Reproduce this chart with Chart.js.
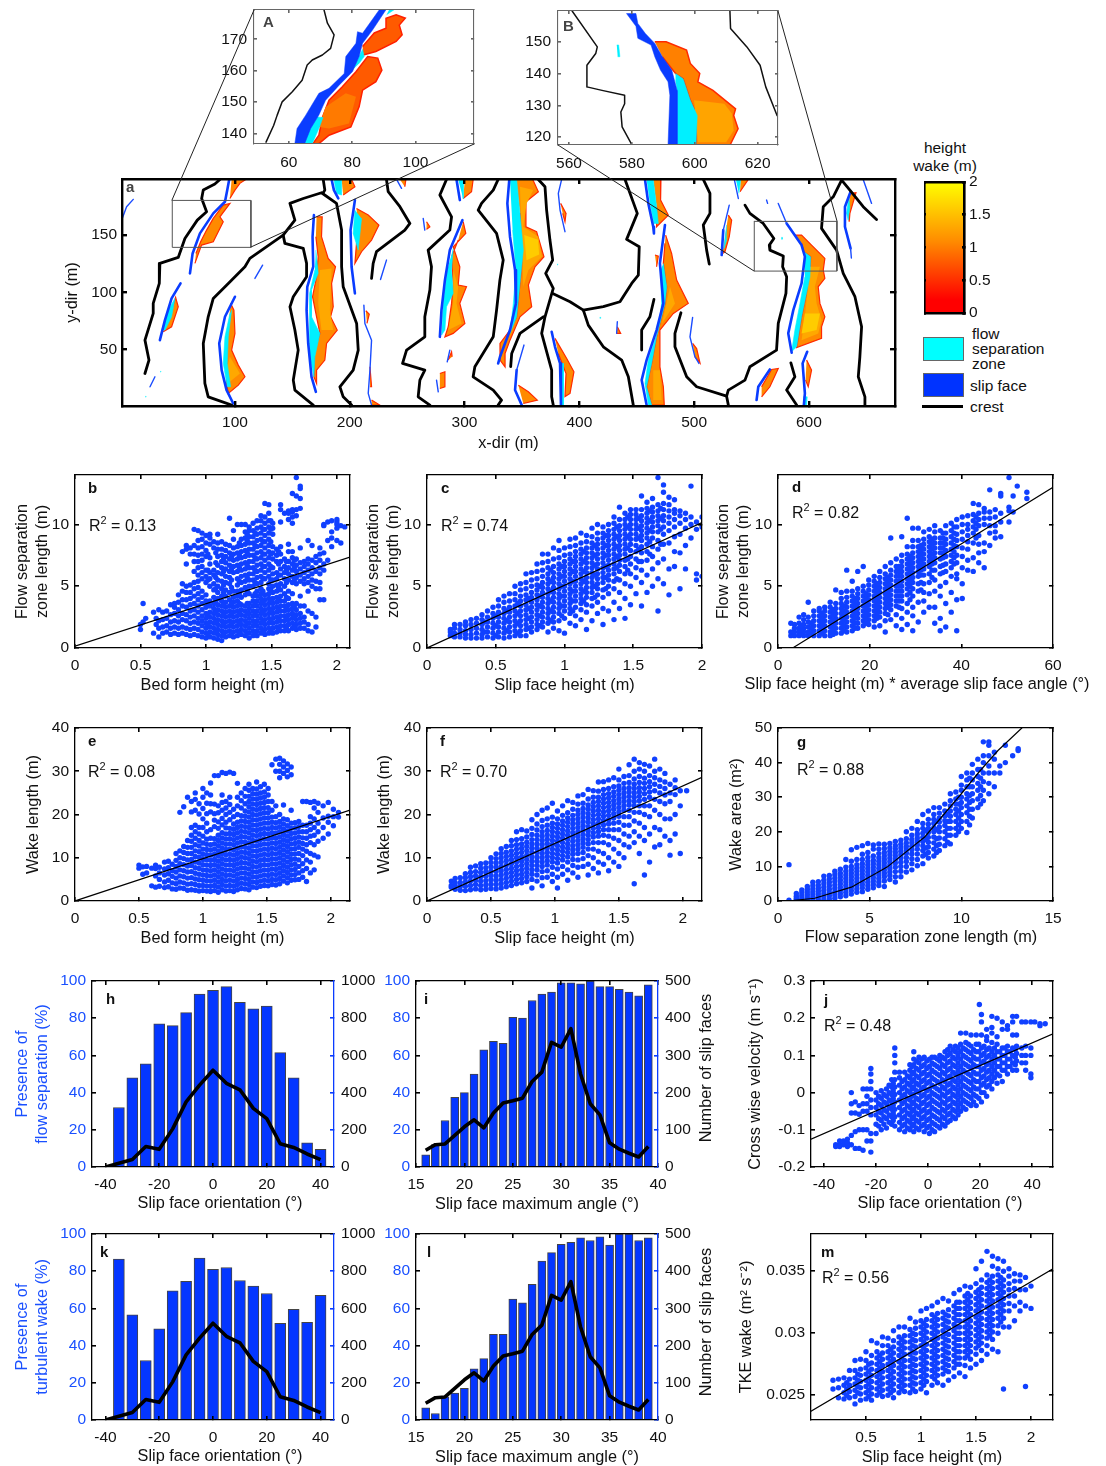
<!DOCTYPE html>
<html>
<head>
<meta charset="utf-8">
<script src="https://cdn.jsdelivr.net/npm/chart.js@4"></script>
<style>
  body { margin: 0; background: #fff; width: 1106px; height: 1466px; position: relative; overflow: hidden; font-family: "Liberation Sans", Arial, sans-serif; color: #111; }
  canvas { position: absolute; }
  .txt { position: absolute; font-size: 15.5px; line-height: 15px; white-space: nowrap; }
  .box { position: absolute; border: 1px solid #666; box-sizing: border-box; }
</style>
</head>
<body>
<div class="txt" style="left:900px;width:90px;text-align:center;top:140px">height</div>
<div class="txt" style="left:900px;width:90px;text-align:center;top:158px">wake (m)</div>
<div class="box" style="left:923px;top:337px;width:41px;height:24px;background:#00ffff"></div>
<div class="box" style="left:923px;top:373px;width:41px;height:24px;background:#0033ff"></div>
<div class="box" style="left:922px;top:405px;width:41px;height:3px;background:#000;border:0"></div>
<div class="txt" style="left:972px;top:326px">flow</div>
<div class="txt" style="left:972px;top:341px">separation</div>
<div class="txt" style="left:972px;top:356px">zone</div>
<div class="txt" style="left:970px;top:378px">slip face</div>
<div class="txt" style="left:970px;top:399px">crest</div>
<script>
// ---- bar and line data ----
const orientBins = [-35,-30,-25,-20,-15,-10,-5,0,5,10,15,20,25,30,35,40];
const presenceSepOrient = [32,48,55.5,77,76,83,93,95,97,88.5,85,86.5,61.5,48,13,9.5];
const presenceWakeOrient = [86.5,56.5,32,49,69.5,74.5,87,81,82,75,72,68,52,59.5,52.5,67];
const countOrientX = [-40,-35,-30,-25,-20,-15,-10,-5,0,5,10,15,20,25,30,35,40];
const countOrient = [0,20,40,110,95,205,350,440,520,450,415,315,260,125,105,70,40];
const angleBins = [16,17,18,19,20,21,22,23,24,25,26,27,28,29,30,31,32,33,34,35,36,37,38,39];
const presenceSepAngle = [6.5,12,25,37.5,40,50,63,67.5,66.5,80.5,80,89.5,93,94,99,99,98.5,100,97,97,95.5,94,92,98];
const presenceWakeAngle = [6.5,3.5,12.5,14.5,17,27.5,33,46,46,65,63,73,85.5,90,94.5,95.5,98,96.5,98.5,94,100,100,96.5,98];
const countAngle = [45,60,62,85,108,127,105,145,172,178,185,230,255,335,322,372,250,170,140,65,48,37,27,55];

// ---- tick labels ----
const ticksMapX = [100,200,300,400,500,600];
const ticksMapY = [50,100,150];
const ticksLen = [0,5,10];
const ticks40 = [0,10,20,30,40];
const ticks50 = [0,10,20,30,40,50];
const ticksHeight = [0,0.5,1,1.5,2];
const ticksAngleD = [0,20,40,60];
const ticksG = [0,5,10,15];
const ticksOrient = [-40,-20,0,20,40];
const ticksAngle = [15,20,25,30,35,40];
const ticksPct = [0,20,40,60,80,100];
const ticksCount1000 = [0,200,400,600,800,1000];
const ticksCount500 = [0,100,200,300,400,500];
const ticksJ = [-0.2,-0.1,0,0.1,0.2,0.3];
const ticksMy = [0.025,0.03,0.035];
const ticksInsetAx = [60,80,100];
const ticksInsetAy = [140,150,160,170];
const ticksInsetBx = [560,580,600,620];
const ticksInsetBy = [120,130,140,150];
const ticksBar = [0,0.5,1,1.5,2];

// ---- fit lines, as x,y pairs ----
const fitB = [0,0.15,2.1,7.35];
const fitC = [0,0,2,10.15];
const fitD = [3.2,0,60,13];
const fitE = [0,0,2.15,21];
const fitF = [0,0,2.15,28.6];
const fitG = [0.5,0,2,0.8,4,4,6,10,8,18.5,10,31,11,37.5,12,43.5,13.3,50];
const fitJ = [-45,-0.125,48,0.158];
const fitM = [0,0.0237,2.2,0.0352];

// ---- scatter clouds, each row is x followed by the y values seen at that x ----
const scatterB = [[.5,1.5,1.9],[.52,3.6,2.1],[.54,2.4],[.6,1.2,2.9],[.62,1.9,2.4],[.64,.9,1.6,2.2,3.1],[.67,1.2,1.7,2.3,2.9],[.7,1.3,1.8,2.4,3],[.73,1.1,1.6,2.1,2.7,3.5],[.76,1.2,1.7,2.2,2.8,3.3,3.6],[.79,1.1,1.6,2.1,2.6,3.1,3.7,4.3],[.82,1.2,1.7,2.3,2.8,3.4,3.9,4.6,5.2,7.8],[.85,1.1,1.6,2.2,2.7,3.3,3.9,4.5,5,6.8,8,8.3],[.88,1,1.5,2,2.5,3,3.5,4,4.5,5.1,7.6,8.1],[.91,1.1,1.6,2.1,2.6,3.1,3.6,4.2,4.8,5.3,6.2,7,7.6,8.3,9.6],[.94,1,1.5,2,2.4,2.9,3.4,3.9,4.4,4.9,5.4,5.9,6.5,7,7.5,8.1,8.7,9.5],[.97,.9,1.3,1.8,2.2,2.6,3.1,3.6,4.1,4.6,5.6,6.1,6.6,7.1,7.6,8.2,8.8,9.3],[1,.8,1.2,1.6,2,2.4,2.8,3.3,3.8,4.3,5.3,5.8,6.3,7.4,7.9,8.5,9.1],[1.03,.9,1.3,1.7,2.1,2.5,2.9,3.4,3.8,5,5.6,6.1,6.8,7.3,8.4,8.9,9.2],[1.06,.8,1.2,1.6,2,2.4,2.8,3.2,3.6,4.1,4.7,5.2,5.9,6.3,8.1,8.6],[1.09,.7,1.1,1.5,1.9,2.3,2.7,3.1,3.5,4,4.5,5,5.5,6.1,6.7,7.4,8,8.5,9.2],[1.12,.6,1,1.4,1.8,2.2,2.6,3,3.4,3.8,4.2,4.8,5.4,6,6.5,7,7.5,8,8.6],[1.15,.9,1.3,1.7,2.1,2.5,2.9,3.3,3.7,4.2,4.7,5.3,5.8,6.4,6.9,7.4,7.9,8.4],[1.18,1,1.4,1.8,2.2,2.6,3,3.4,3.9,4.5,5.2,5.7,6.2,6.7,7.2,7.7,8.3,10.5],[1.21,.9,1.3,1.7,2.1,2.5,2.9,3.3,3.7,4.1,4.6,6.1,6.6,7.1,7.6,8.1,8.8,9.5],[1.24,1,1.4,1.8,2.2,2.6,3,3.4,3.8,4.2,4.6,5.1,5.6,6.2,6.7,7.2,7.7,8.2,10],[1.27,1.1,1.5,1.9,2.3,2.7,3.1,3.5,4.1,4.7,5.3,5.8,6.3,6.8,7.3,7.8,8.3,8.8,10],[1.3,1,1.4,1.8,2.2,2.6,3,3.4,4.3,4.9,5.4,5.9,6.4,6.9,7.4,7.9,8.4,8.9,9.4,10],[1.33,.8,1.2,1.6,2,2.4,2.8,3.2,3.6,4.4,5,5.5,6,6.5,7,7.5,8,8.5,9,9.5,9.8],[1.36,1,1.4,1.8,2.2,2.6,3,3.4,3.8,4.2,5,5.5,6,6.5,7,7.5,8,8.5,9,9.5,10.1],[1.39,1,1.4,1.8,2.2,2.6,3,3.4,3.8,4.2,4.6,5.2,5.7,6.2,6.7,7.2,7.7,8.2,8.7,9.2,9.7,10.3],[1.42,1.2,1.6,2,2.4,2.8,3.2,3.6,4,4.4,4.8,5.3,5.8,6.3,6.8,7.3,7.8,8.3,8.8,9.3,9.8,10.3,10.7],[1.45,1.1,1.5,1.9,2.3,2.7,3.1,3.5,3.9,4.3,5.6,6.1,6.6,7.1,7.6,8.1,8.6,9.1,9.6,10.1,10.6,11.7],[1.48,1.2,1.6,2,2.4,2.8,3.2,3.6,4,4.4,4.8,5.2,5.8,6.3,6.8,7.3,7.8,8.3,8.8,9.3,9.8,10.3,10.9,11.6],[1.51,1.2,1.6,2,2.4,2.8,3.2,3.6,4,4.5,5,5.5,6,6.5,7.2,7.7,8.2,9.2,9.7,10.1],[1.54,1.3,1.7,2.1,2.5,2.9,3.3,3.7,4.1,4.6,5.1,5.6,6.1,7,7.5,8],[1.57,1.4,1.8,2.2,2.6,3,3.4,3.8,4.2,4.7,5.2,5.9,6.4,7,7.6,8.2,10.2,11.2,11.6],[1.6,1.4,1.8,2.2,2.6,3,3.4,3.8,4.4,5,5.6,6.1,6.6,7.2,10.9],[1.63,1.4,1.9,2.3,2.7,3.1,3.5,4,4.6,5.5,6,6.5,7,7.8,8.4,10.4,10.9,11.1],[1.66,1.6,2,2.4,2.8,3.2,3.6,4.4,5.3,5.8,6.3,6.8,7.3,7.8,10.1,10.6,11,11.2,12.5],[1.69,1.5,1.9,2.3,2.7,3.1,3.6,5.2,5.7,6.2,6.7,7.2,10.7,11.2,12.3,13.8],[1.72,1.6,2,2.4,2.8,3.4,4.2,5.4,5.9,6.4,6.9,8.1,11.3,12.1,12.9,13.1],[1.75,1.6,2.1,2.5,3.4,5.2,5.6,6.1,6.6,7],[1.78,1.4,1.9,3,4.6,5.3,5.8,6.3,6.8,7.2,8.7],[1.81,1.3,2.8,5,5.5,6,6.5,7.1,8.3],[1.84,1.7,2.5,4.8,5.4,6.2,6.9,7.4],[1.87,3.9,4.8,5.3,6,6.5,7.1,7.6,8.1],[1.9,3.9,6.3,6.8,7.7,9.9,10],[1.93,7.1,8.7,10.2],[1.96,8.2,8.9,9.4,10.3],[2,8.7,9.7,10.2,10.4,10],[2.03,8.5,9.9],[2.06,9.8]];
const scatterBCore = [[1.015,1.1,1.9,2.7,3.6,5.5,6.3,7.6],[1.075,1.3,2.1,2.9,3.8,4.8,5.7,6.9,7.7],[1.135,1.1,1.9,2.7,3.5,4.5,5.1,6.2,7.2],[1.195,1.2,2,2.8,3.6,4.9,5.5,6.4,7.4],[1.255,1.2,2,2.8,3.6,4.4,5.4,6.5,7.5,8.5],[1.315,1.2,2,2.8,3.6,4.6,5.7,6.7,7.7,8.7,9.2],[1.375,1.2,2,2.8,3.6,4.4,5.3,6.3,7.3,8.3,9.3],[1.435,1.3,2.1,2.9,3.7,4.6,5.6,6.6,7.6,8.6,9.6],[1.495,1.4,2.2,3,3.8,4.7,5.5,6.6,7.6,8.6,9.6,10.3],[1.555,1.5,2.3,3.1,3.9,4.9,5.9,6.8,7.8],[1.615,1.6,2.4,3.2,4.1,5.3,6.3,7],[1.675,1.7,2.5,3.4,5.5,6.5,7.1]];
const scatterC = [[.17,1,1.3,1.5],[.2,.9,1.2,1.6,1.9],[.24,.9,1.2,1.5,1.9],[.28,.8,1.1,1.4,1.8,2.1],[.32,.8,1.1,1.5,1.9,2.3],[.36,.8,1.2,1.6,2,2.4],[.4,.8,1.1,1.5,1.9,2.3,2.7],[.44,.9,1.3,1.7,2.1,2.5,3],[.48,.8,1.2,1.6,2,2.4,2.8,3.3],[.52,.9,1.3,1.7,2.1,2.5,2.9,3.4,3.9],[.56,.8,1.2,1.6,2,2.4,2.8,3.2,3.7,4.2],[.6,.9,1.3,1.7,2.1,2.5,2.9,3.3,3.8,4.4],[.64,1,1.4,1.8,2.2,2.6,3,3.4,3.9,4.4,5],[.68,1,1.4,1.8,2.2,2.6,3,3.4,3.8,4.2,4.7,5.2],[.72,1,1.5,1.9,2.3,2.7,3.1,3.5,3.9,4.3,4.8,5.3,6],[.76,1.3,1.7,2.1,2.5,2.9,3.3,3.7,4.1,4.5,5,5.5,6.1],[.8,1.5,1.9,2.3,2.7,3.1,3.5,3.9,4.3,4.7,5.1,5.6,6.2,6.8],[.84,1.7,2.1,2.5,2.9,3.3,3.7,4.1,4.5,4.9,5.3,5.8,6.3,6.9,7.6],[.88,1.3,2,2.4,2.8,3.2,3.6,4,4.4,4.8,5.2,5.6,6,6.5,7,7.6],[.92,1.6,2.1,2.5,2.9,3.3,3.7,4.1,4.5,4.9,5.3,5.7,6.1,6.6,7.2,8.1],[.96,1.4,2.2,2.8,3.2,3.6,4,4.4,4.8,5.2,5.6,6,6.4,6.8,7.3,7.9,8.7],[1,1.2,2.4,3,3.4,3.8,4.2,4.6,5,5.4,5.8,6.2,6.6,7,7.5,8.1],[1.04,2,2.8,3.2,3.6,4,4.4,4.8,5.2,5.6,6,6.4,6.8,7.2,7.6,8.2,8.8],[1.08,1.8,2.6,3.3,3.8,4.2,4.6,5,5.4,5.8,6.2,6.6,7,7.4,7.8,8.3,8.9],[1.12,2.3,3.1,3.6,4,4.4,4.8,5.2,5.6,6,6.4,6.8,7.2,7.6,8,8.5,9.3],[1.16,1.5,2.9,3.5,4.1,4.5,4.9,5.3,5.7,6.1,6.5,6.9,7.3,7.7,8.1,8.6,9.1],[1.2,2.2,3.4,4,4.5,4.9,5.3,5.7,6.1,6.5,6.9,7.3,7.7,8.1,8.5,9,9.7],[1.24,2.8,3.7,4.3,4.8,5.2,5.6,6,6.4,6.8,7.2,7.6,8,8.4,8.8,9.3,10],[1.28,1.9,3.2,4.1,4.7,5.3,5.7,6.1,6.5,6.9,7.3,7.7,8.1,8.5,8.9,9.3,9.8],[1.32,3,4.4,5,5.5,5.9,6.3,6.7,7.1,7.5,7.9,8.3,8.7,9.1,9.5,10],[1.36,2.3,3.7,4.8,5.4,6,6.4,6.8,7.2,7.6,8,8.4,8.8,9.2,9.6,10.1,10.6],[1.4,3.2,4.5,5.5,6.2,6.7,7.1,7.5,7.9,8.3,8.7,9.1,9.5,9.9,10.4,11.4],[1.44,2.4,4,5.2,6,6.6,7.1,7.6,8,8.4,8.8,9.2,9.6,10,10.4,10.9],[1.48,3.5,5,6,6.8,7.4,7.9,8.4,8.8,9.2,9.6,10,10.4,10.8,11.2],[1.52,4.4,5.7,6.5,7.2,7.8,8.3,8.8,9.2,9.6,10,10.4,10.8,11.2],[1.56,3.4,5.3,6.3,7,7.7,8.2,8.7,9.1,9.5,9.9,10.3,10.7,11.2,12.3],[1.6,4.5,5.9,7.1,7.8,8.4,8.9,9.3,9.7,10.1,10.5,10.9,11.3,11.8],[1.64,5,6.4,7.4,8.2,8.9,9.4,9.8,10.2,10.6,11,11.4,12.1],[1.68,3,5.6,6.9,8,8.7,9.4,9.9,10.3,10.7,11.1,11.6,13.8],[1.72,5.2,7.2,8.4,9.2,9.8,10.3,10.7,11.2,11.7,12.6,13.2],[1.76,4.3,6.4,8.5,9.5,10.1,10.6,11.1,11.6,12.2],[1.8,6.6,7.8,9,9.8,10.4,10.9,11.2,12],[1.84,4.8,7.7,9.2,10.1,10.7,11.1],[1.88,6.4,8.3,9.7,10.4,10.9],[1.92,8.9,10,10.6,13.1],[1.96,6,5.5,9.6,10.2],[2,10.6,5.8,9.8]];
const scatterCCore = [[.42,1.3,2.1],[.5,1,1.8,2.6],[.58,1.4,2.2,3],[.66,1.2,2,2.8,3.6],[.74,1.6,2.4,3.2,4],[.82,1.8,2.6,3.4,4.2,5],[.9,2.2,3,3.8,4.6,5.4,6.3],[.98,2.6,3.4,4.2,5,5.8,6.6],[1.06,3,3.8,4.6,5.4,6.2,7],[1.14,3.8,4.6,5.4,6.2,7,7.8],[1.22,4.1,5,5.9,6.7,7.5,8.3],[1.3,4.8,5.7,6.6,7.5,8.3,9.1],[1.38,5.6,6.5,7.4,8.2,9,9.8],[1.46,6.3,7.2,8.1,9,9.8,10.6],[1.54,7,8,8.9,9.7,10.5],[1.62,7.6,8.6,9.5,10.3,11.1],[1.7,8.4,9.6,10.5,11.3]];
const scatterD = [[2.8,1,1.3,2],[3.6,1,1.3,1.6,1.9],[4.6,1,1.3,1.6,2,2.5],[5.6,1,1.3,1.6,1.9,2.3,2.7],[6.6,1,1.3,1.7,2.1,2.5,3.7],[7.8,1,1.4,1.8,2.2,2.6,3],[9,1,1.4,1.8,2.2,2.6,3,3.2],[10.2,1,1.4,1.8,2.2,2.6,3,3.3],[11.4,1,1.3,1.7,2.1,2.5,2.9,3.3,3.7],[12.6,1.2,1.6,2,2.4,2.8,3.2,3.6,4.7],[13.8,1.2,1.6,2,2.4,2.8,3.2,3.6,4,4.5],[15,1.3,1.7,2.1,2.5,2.9,3.3,3.7,4.1,4.6,6.3],[16.2,1.4,1.8,2.2,2.6,3,3.4,3.8,4.2,4.6,5.4],[17.4,1.6,2,2.4,2.8,3.2,3.6,4,4.4,4.8,6.2],[18.6,1.8,2.2,2.6,3,3.4,3.8,4.2,4.6,5,6.6],[19.8,1.9,2.3,2.7,3.1,3.5,3.9,4.3,4.7,5.1,5.5],[21,1.7,2.2,2.6,3,3.4,3.8,4.2,4.6,5,5.4,5.8],[22.2,1.8,2.5,2.9,3.3,3.7,4.1,4.5,4.9,5.3,5.7,6.2],[23.4,1.3,2.2,2.8,3.2,3.6,4,4.4,4.8,5.2,5.6,6,6.6],[24.6,2.3,3.1,3.5,3.9,4.3,4.7,5.1,5.5,5.9,6.3,6.9,8.9],[25.8,1.8,2.7,3.4,3.8,4.2,4.6,5,5.4,5.8,6.2,6.6,7.2],[27,1.5,2.4,3.2,3.8,4.2,4.6,5,5.4,5.8,6.2,6.6,7,7.5,9],[28.2,1.9,2.9,3.6,4.3,4.8,5.2,5.6,6,6.4,6.8,7.2,7.6,8.2,10.5],[29.4,1.4,2.6,3.3,4.2,4.8,5.3,5.7,6.1,6.5,6.9,7.3,7.7,8.2,8.7,9.7],[30.6,2.1,3.7,4.6,5.2,5.8,6.2,6.6,7,7.4,7.8,8.2,8.7,9.7],[31.8,2.9,3.8,4.5,5.2,5.9,6.4,6.8,7.2,7.6,8,8.4,8.8,9.4],[33,3.3,4.4,5.3,6,6.6,7,7.4,7.8,8.2,8.6,9,9.6],[34.2,2,3.3,4.6,5.5,6.3,6.9,7.3,7.7,8.1,8.5,8.9,9.4,9.9],[35.4,1.4,2.4,4.2,5,6,6.6,7.2,7.7,8.1,8.5,8.9,9.5],[36.6,1.7,3.6,5.3,6.2,6.8,7.4,7.9,8.4,8.8,9.3,9.9],[37.8,2.9,4.5,5.8,6.5,7,7.5,8,8.5,9,9.5,10.1],[39,1.4,3.9,5.6,6,6.9,7.5,8.2,8.7,9.2,9.8,10.4],[40.2,4,5.2,6.5,7.4,8.1,8.8,9.4,10,10.6],[41.4,6.3,7.1,8,8.6,9.1,9.6,10,10.7],[42.6,6.2,7.3,8.5,9.3,9.8,10.3,10.8,11.7],[43.8,6.9,7.7,8.4,9.1,9.9,10.4,10.9,11.6],[45,6.5,7.8,8.5,10,10.5,11,11.3],[46.2,8.3,9.3,9.9,10.5,11,12.8],[47.4,8.9,9.4,9.9,10.6,11.2],[48.6,9,10.2,10.9,12.3,12.5],[50.4,10.2,11.1,11.4,13.8],[51.3,11,12.3],[52.2,13.1],[54.3,12.1,12.6]];
const scatterDCore = [[5,1.15,1.45,1.8],[7.2,1.2,1.6,2],[9.6,1.2,1.6,2,2.4,2.8],[12,1.1,1.5,1.9,2.3,2.7,3.1],[14.4,1.4,1.8,2.2,2.6,3,3.4],[16.8,1.6,2,2.4,2.8,3.2,3.6,4],[19.2,2,2.4,2.8,3.2,3.6,4,4.4],[21.6,2.4,2.8,3.2,3.6,4,4.4,4.8,5.2],[24,2.7,3.3,3.7,4.1,4.5,4.9,5.3,5.7],[26.4,3.3,3.8,4.2,4.6,5,5.4,5.8,6.2,6.6],[28.8,3.9,4.5,5,5.4,5.8,6.2,6.6,7,7.4],[31.2,4.7,5.3,5.9,6.3,6.7,7.1,7.5,7.9,8.3],[33.6,5.7,6.3,6.8,7.2,7.6,8,8.4,8.8],[36,6.1,6.7,7.3,7.7,8.1,8.5,8.9,9.3],[38.4,6.8,7.3,7.8,8.3,8.8,9.3,9.8],[43.2,8.9,9.6,10.1,10.6]];
const scatterE = [[.5,8.3,7.6],[.53,6.2,7.9],[.56,6.5,8],[.6,3.5,7.6],[.63,3.2,5.8,7.5,8.3],[.66,3.4,5,6.5,7.8],[.7,3.1,4.4,6,7.4,9],[.73,3.3,4.8,6.3,7.7,9.2],[.76,2.8,4.2,5.7,7,8.5],[.79,2.7,4,5.3,6.7,8,9.4,11],[.82,3,4.4,5.8,7.2,8.6,10,11.6,20.5],[.85,2.9,4.2,5.6,7,8.4,9.8,11.2,12.6,21.8],[.88,2.5,3.9,5.3,6.7,8.1,9.5,11,12.4,14,24],[.91,2.6,4,5.4,6.8,8.2,9.6,11,12.4,13.8,15.2,17,20.6,23],[.94,2.5,3.8,5.1,6.4,7.7,9,10.3,11.6,13,14.5,16,17.5,21,23.5,25],[.97,2.3,3.6,4.9,6.2,7.5,8.8,10.1,11.4,12.7,14,15.5,17,20.1,22.5],[1,2.4,3.6,4.8,6,7.2,8.4,9.6,10.8,12,13.4,15,17,19,21.4,24,26],[1.03,2.3,3.5,4.7,5.9,7.1,8.3,9.5,10.7,11.9,13.1,14.3,16,18,20.2,22.6,25],[1.06,2.2,3.4,4.6,5.8,7,8.2,9.4,10.6,11.8,13,14.5,16.5,20.6,22.5,24.5,27.3],[1.09,2.4,3.6,4.8,6,7.2,8.4,9.6,10.8,12,13.2,14.4,17.2,18.7,20.2,22.4,29],[1.12,2,3.2,4.4,5.6,6.8,8,9.2,10.4,11.6,12.8,14,15.2,16.8,18.3,20.4,22,29],[1.15,2.6,3.8,5,6.2,7.4,8.6,9.8,11,12.2,13.4,14.6,15.8,17.6,19.1,21,22.8,24.5,29.7],[1.18,2.3,3.5,4.7,5.9,7.1,8.3,9.5,10.7,11.9,13.1,14.3,15.5,16.9,18.2,20,21.5,23,29.5],[1.21,2.4,3.6,4.8,6,7.2,8.4,9.6,10.8,12,13.2,14.4,15.6,16.8,18.8,20.5,22.3,24,29.8],[1.24,2.2,3.4,4.6,5.8,7,8.2,9.4,10.6,11.8,13,14.2,15.4,16.6,17.8,19.5,21.2,29.5],[1.27,2.6,3.8,5,6.2,7.4,8.6,9.8,11,12.2,13.4,14.6,15.8,17,18.2,20,22,24,27.2],[1.3,2.9,4.1,5.3,6.5,7.7,8.9,10.1,11.3,12.5,13.7,14.9,16.1,17.3,18.5,19.7,21.5,23.2,25],[1.33,2.8,4,5.2,6.4,7.6,8.8,10,11.2,12.4,13.6,14.8,16,17.2,18.4,19.6,20.8,22.5,24.2,26],[1.36,2.6,3.8,5,6.2,7.4,8.6,9.8,11,12.2,13.4,14.6,15.8,17,18.2,19.4,20.6,21.8,23,24.2,25.6,27],[1.39,3.2,4.4,5.6,6.8,8,9.2,10.4,11.6,12.8,14,15.2,16.4,17.6,18.8,20,21.2,22.4,23.6,24.8,26],[1.42,3.1,4.3,5.5,6.7,7.9,9.1,10.3,11.5,12.7,13.9,15.1,16.3,17.5,18.7,19.9,21.1,22.3,23.5,24.7,25.9,27.5],[1.45,3.4,4.6,5.8,7,8.2,9.4,10.6,11.8,13,14.2,15.4,16.6,17.8,19,20.2,21.4,22.6,23.8,25,26.4],[1.48,3.6,4.8,6,7.2,8.4,9.6,10.8,12,13.2,14.4,15.6,16.8,18,19.2,20.4,21.6,22.8,24,25.2,27],[1.51,3.5,4.7,5.9,7.1,8.3,9.5,10.7,11.9,13.1,14.3,15.5,16.7,18,19.2,20.4,21.6,23,24.5,26],[1.54,3.8,5,6.2,7.4,8.6,9.8,11,12.2,13.4,14.6,15.8,17,18.2,19.4,21,23,31.5],[1.57,3.7,4.9,6.1,7.3,8.5,9.7,10.9,12.1,13.3,14.5,15.7,16.9,18.1,19.5,22,30,32.8],[1.6,4,5.2,6.4,7.6,8.8,10,11.2,12.4,13.6,14.8,16,17.2,18.4,20,28.5,30,31.6,33],[1.63,4.6,5.8,7,8.2,9.4,10.6,11.8,13,14.2,15.4,16.6,17.8,19,22.2,29.5,31,32.4],[1.66,4.2,5.4,6.6,7.8,9,10.2,11.4,12.6,13.8,15,16.2,17.4,18.8,28.7,30.2,31.7],[1.69,4.8,6,7.2,8.4,9.6,10.8,12,13.2,14.4,15.6,16.8,18,21,29.2,31],[1.72,4.9,6.1,7.3,8.5,9.7,10.9,12.1,13.3,14.5,15.7,16.9,18.1],[1.75,5,6.5,8,9.5,11,12.4,13.6,14.8,16,17.2,18.4],[1.78,5.5,7,8.6,10.5,12,13.3,14.6,16,17.5,23],[1.81,4.5,7.5,9.5,11.5,13,14.5,16,17.5,23],[1.84,6.5,9,11,13.5,15,16.5,18,19.5,22.8],[1.87,7.2,10.6,13,15.2,17,19,21.5,23],[1.9,10.2,13.8,16,18,20.5,22.6],[1.94,14.5,17,19.2,22],[1.98,15.5,18.2,19.6,22.8],[2.02,17.4,19.5,21.2],[2.06,19.4,20.5]];
const scatterF = [[.19,3.2,3.6,4.6],[.22,2.7,3.5,4.2,5.2],[.26,2.5,3.4,4.3,5.4],[.3,2.4,3.4,4.4,5.4,6.3],[.34,2.6,3.6,4.6,5.6,6.6,7.8],[.38,2.8,3.8,4.8,5.8,6.8,8.1],[.42,2.6,3.6,4.6,5.6,6.6,7.6,8.6],[.46,2.7,3.7,4.7,5.7,6.7,7.7,8.8],[.5,2.9,3.9,4.9,5.9,6.9,7.9,8.9,10],[.54,2.8,3.8,4.8,5.8,6.8,7.8,8.8,9.8,10.9],[.58,3,4,5,6,7,8,9,10,11,12.1],[.62,3.3,4.3,5.3,6.3,7.3,8.3,9.3,10.3,11.3,12.6],[.66,3.6,4.6,5.6,6.6,7.6,8.6,9.6,10.6,11.6,12.8,14],[.7,4,5,6,7,8,9,10,11,12,13,14.2,16],[.74,4.2,5.2,6.2,7.2,8.2,9.2,10.2,11.2,12.2,13.2,14.4,16.5],[.78,4.5,5.6,6.6,7.6,8.6,9.6,10.6,11.6,12.6,13.6,14.8,16.2],[.82,3,5,6.2,7.2,8.2,9.2,10.2,11.2,12.2,13.2,14.2,15.4,16.8,18.8],[.86,4.6,6,7.2,8.2,9.2,10.2,11.2,12.2,13.2,14.2,15.2,16.4,17.8,20],[.9,3.5,5.4,6.8,8,9,10,11,12,13,14,15,16,17.2,18.6,21],[.94,5.5,7,8.3,9.3,10.3,11.3,12.3,13.3,14.3,15.3,16.3,17.5,19,21.5],[.98,4.5,6.2,7.8,9,10,11,12,13,14,15,16,17,18,19.4,22.6],[1.02,3,5.5,7.4,8.8,9.8,10.8,11.8,12.8,13.8,14.8,15.8,16.8,17.8,19,20.8],[1.06,6.2,8,9.5,10.5,11.5,12.5,13.5,14.5,15.5,16.5,17.5,18.5,19.8,22],[1.1,4.8,7.2,9,10.2,11.2,12.2,13.2,14.2,15.2,16.2,17.2,18.2,19.2,20.4,23.2],[1.14,6.5,8.2,9.6,10.8,11.8,12.8,13.8,14.8,15.8,16.8,17.8,18.8,19.8,21.2,22.8],[1.18,5.5,7.8,9.5,11,12,13,14,15,16,17,18,19,20,21,22.4,24.3],[1.22,8,9.8,11.2,12.4,13.4,14.4,15.4,16.4,17.4,18.4,19.4,20.4,21.4,22.6,24.6],[1.26,6,8.5,10.5,12,13.2,14.2,15.2,16.2,17.2,18.2,19.2,20.2,21.2,22.2,23.6,25.8],[1.3,7.5,10,12,13.5,14.8,15.8,16.8,17.8,18.8,19.8,20.8,21.8,22.8,24,25.5],[1.34,6.5,9,11.5,13.5,15,16,17,18,19,20,21,22,23,24,25.4,27.5],[1.38,8.5,11,13.5,15.2,16.5,17.6,18.6,19.6,20.6,21.6,22.6,23.6,24.6,25.8,27.6],[1.42,7,10,13,15,16.5,17.8,18.8,19.8,20.8,21.8,22.8,23.8,24.8,26,28],[1.46,9,12,14.5,16.5,18,19.2,20.2,21.2,22.2,23.2,24.2,25.2,26.4,28.5],[1.5,8,11,14,16.5,18.2,19.6,20.6,21.6,22.6,23.6,24.6,25.6,26.6,28,30.5],[1.54,10,13,15.5,17.5,19.5,21,22,23,24,25,26,27.2,28.8],[1.58,12.5,15,17.5,19.5,21,22.2,23.2,24.2,25.2,26.2,27.4,29,31.5],[1.62,4,13.5,16,18.5,20.5,22,23,24,25,26,27,28.2,30,32.8],[1.66,11,15,18,20.5,22,23.2,24.2,25.2,26.2,27.4,28.8,30.5,32],[1.7,6,14,17,20,22,23.5,24.8,26,27.2,28.4,30,31.6],[1.74,9,15.5,19.5,22,24,25.2,26.4,27.6,29,31.2],[1.78,12.5,17,21,23.5,25.5,27,28.5,30,32.8],[1.82,13,16.5,20,23,25,26.5,28,30.5],[1.86,15,19,22.5,24.5,26,27.5,29.5],[1.9,10.6,14,19,23,25,27],[1.94,15.5,20,24.6,26.2,28],[1.98,11,22,25.5],[2.03,25.5]];
const scatterG = [[.6,.2,10.5],[1,.3,.8,1.4,2.2],[1.3,.3,.9,1.6,2.4,3.2],[1.6,.3,1,1.8,2.6,3.4,4.2],[1.9,.3,1,1.8,2.6,3.5,4.4,5.4],[2.2,.4,1.2,2,2.8,3.7,4.6,5.6],[2.5,.4,1.2,2.1,3,4,5,6,7.2],[2.8,.6,1.5,2.4,3.4,4.4,5.4,6.4,7.4],[3.1,.8,1.7,2.6,3.6,4.6,5.6,6.6,7.6,8.6],[3.4,1.2,2.1,3,4,5,6,7,8,9.2],[3.7,1.5,2.5,3.5,4.5,5.5,6.5,7.5,8.6,9.8,12],[4,2,3,4,5,6,7,8,9,10,11.5,14.8],[4.3,2.5,3.5,4.5,5.5,6.5,7.5,8.5,9.5,10.5,12,15.5],[4.6,2.7,3.8,4.8,5.8,6.8,7.8,8.8,9.8,10.8,12,13.5,16],[4.9,3.4,4.4,5.4,6.4,7.4,8.4,9.4,10.4,11.4,12.6,14,16.6],[5.2,3.8,4.8,5.8,6.8,7.8,8.8,9.8,10.8,11.8,13,15,16.2],[5.5,4.5,5.5,6.5,7.5,8.5,9.5,10.5,11.5,12.5,13.7,15,16.5],[5.8,4.2,5.8,7,8,9,10,11,12,13,14,15.2,16.4],[6.1,6.2,7.4,8.4,9.4,10.4,11.4,12.4,13.4,14.4,15.4,16.6],[6.4,5.5,7,8.5,9.8,11,12,13,14,15,16,17.2],[6.7,7,8.6,10,11.2,12.4,13.4,14.4,15.4,16.4,17.6],[7,8.4,10,11.4,12.6,13.8,14.8,15.8,16.8,18,20],[7.3,9,10.8,12.2,13.6,14.8,15.8,16.8,17.8,19,21],[7.6,10.2,12,13.6,15,16.2,17.2,18.2,19.4,20.6,23],[7.9,10.8,13,14.6,16,17.2,18.4,19.6,21,22.4,25],[8.2,12.4,14,15.6,17,18.4,19.8,21,22.2,23.6,26],[8.5,13,15,16.8,18.5,20,21.2,22.4,23.6,25,27],[8.8,14.6,16.4,18.2,20,21.4,22.8,24,25.4,27],[9.1,16,18,20,21.8,23.2,24.6,26,28],[9.4,16.5,19,21,23,24.5,26,27.5,29,31],[9.7,19,21,23,25,26.5,28,29.5,31.5],[10,21,23,25,27,28.5,30,32,33.5,36],[10.3,19.8,23,25.5,27.5,29.5,31,33,35,37],[10.6,24,26.5,29,31,33,35,37,39.5],[10.9,27,29.5,32,34,36,38,41],[11.2,29,32,34.5,37,40,42,46],[11.5,31,34,37,39,42,45,46],[11.8,33,37,41,43],[12.1,37,39],[12.4,40,45],[12.8,42],[13.1,44,43.5]];
const scatterGCore = [[8.05,13.5,15.3,17.8,20.4],[8.65,14,16,18,20.6,23],[9.25,17,19,21,23,25],[9.85,20,22,24,26,28,30],[10.45,22,24.5,26.5,28.5,30.5,33,35.5],[11.05,28,30.5,33,35.5,38]];
const scatterJ = [[-35.5,-.145,-.14],[-34,-.14,-.13,-.145],[-32.5,-.13,-.14],[-31,-.125,-.145,-.135],[-29.5,-.115,-.14,0,-.03,-.055],[-28,-.105,-.15,-.055,-.025],[-26.5,-.1,-.15,-.058,-.035],[-25,-.1,-.155,-.05,-.03,.01],[-23.5,-.13,-.1,-.05,-.03,-.01,.01],[-22,-.16,-.13,-.11,-.06,-.04,-.02,.01,.03,.05,.065],[-20,-.11,-.085,-.06,-.04,-.02,0],[-18,-.1,-.075,-.055,-.035,-.015,.005],[-16,-.095,-.07,-.05,-.03,-.01,.01],[-14,-.085,-.065,-.045,-.025,-.005,.015,.035],[-12.8,-.09,-.065,-.045,-.025,-.005,.015,.035,.055,.08,.1,.12],[-11,-.1,-.08,-.06,-.04,-.02,0,.02,.04,.055],[-9,-.105,-.085,-.065,-.045,-.025,-.005,.015,.035,.055],[-7,-.1,-.08,-.06,-.04,-.02,0,.02,.04,.06,.075],[-5.5,-.105,-.085,-.065,-.045,-.025,-.005,.015,.035,.055,.075,.09,.11],[-3.5,-.1,-.08,-.06,-.04,-.02,0,.02,.04,.06,.08,.095],[-1.5,-.105,-.085,-.065,-.045,-.025,-.005,.015,.035,.055,.075,.095],[.5,-.11,-.09,-.07,-.05,-.03,-.01,.01,.03,.05,.07,.09],[2.5,-.105,-.085,-.065,-.045,-.025,-.005,.015,.035,.055,.075,.095],[4.5,-.095,-.075,-.055,-.035,-.015,.005,.025,.045,.065,.085,.1],[6.5,-.09,-.07,-.05,-.03,-.01,.01,.03,.05,.07,.09,.11],[8.5,-.075,-.055,-.035,-.015,.005,.025,.045,.065,.085,.105,.125],[10.5,-.07,-.05,-.03,-.01,.01,.03,.05,.07,.09,.11,.125],[12.5,-.05,-.03,-.01,.01,.03,.05,.07,.09,.11,.13,.16],[14.5,-.045,-.025,-.005,.015,.035,.055,.075,.095,.115,.135,.16],[16.5,-.035,-.015,.005,.025,.045,.065,.085,.105,.125,.155],[18.5,-.035,-.01,.01,.03,.05,.07,.09,.11,.13,.155],[19.7,.237],[20.5,-.025,0,.02,.04,.06,.08,.1,.12,.155,.19,.21],[22.5,-.01,.015,.035,.055,.075,.095,.115,.14,.17,.15],[24.5,.01,.03,.05,.07,.09,.11,.135,.16,.175,.205],[26.5,.025,.05,.07,.09,.11,.13,.15,.2],[28.5,.03,.06,.08,.1,.12,.17,.19],[30.5,.05,.07,.09,.11,.125,.17,.18],[32.5,.06,.08,.1,.12,.155,.19,.205],[34,.06,.085,.105,.125,.155,.205],[36,.08,.1,.12,.19],[37.5,.06,.08,.1,.125,.19],[39.5,.04,.05,.1,.12,.19],[41,.19],[43,.18,.185],[45,.185]];
const scatterJCore = [[-19,-.09,-.07,-.05,-.03,-.01],[-17,-.085,-.065,-.045,-.025,-.005],[-15,-.08,-.06,-.04,-.02,0,.02],[-13.4,-.075,-.055,-.035,-.015,.005,.025],[-10,-.09,-.07,-.05,-.03,-.01,.01,.03],[-8,-.095,-.075,-.055,-.035,-.015,.005,.025,.045],[-6.2,-.09,-.07,-.05,-.03,-.01,.01,.03,.05,.07],[-4.5,-.095,-.075,-.055,-.035,-.015,.005,.025,.045,.065,.085],[-2.5,-.09,-.07,-.05,-.03,-.01,.01,.03,.05,.07,.09],[-.5,-.095,-.075,-.055,-.035,-.015,.005,.025,.045,.065,.085],[1.5,-.1,-.08,-.06,-.04,-.02,0,.02,.04,.06,.08,.095],[3.5,-.09,-.07,-.05,-.03,-.01,.01,.03,.05,.07,.09],[5.5,-.085,-.065,-.045,-.025,-.005,.015,.035,.055,.075,.095],[7.5,-.08,-.06,-.04,-.02,0,.02,.04,.06,.08,.1,.115],[9.5,-.065,-.045,-.025,-.005,.015,.035,.055,.075,.095,.115],[11.5,-.06,-.04,-.02,0,.02,.04,.06,.08,.1,.12],[13.5,-.04,-.02,0,.02,.04,.06,.08,.1,.12],[15.5,-.03,-.01,.01,.03,.05,.07,.09,.11,.13],[17.5,-.025,-.005,.015,.035,.055,.075,.095,.115],[19.5,-.015,.01,.03,.05,.07,.09,.11,.13],[21.5,0,.025,.045,.065,.085,.105,.125],[23.5,.02,.04,.06,.08,.1,.12],[25.5,.04,.06,.08,.1,.12],[27.5,.045,.07,.09,.11],[29.5,.06,.08,.1,.12],[31.5,.07,.09,.11],[33.5,.075,.095,.115]];
const scatterM = [[.2,.0255,.0262],[.25,.0248,.0256,.0263],[.3,.0247,.0252,.0258,.0264],[.35,.0248,.0253,.0258,.0263,.027],[.4,.0243,.0249,.0254,.0259,.0264,.027,.0278],[.45,.0246,.0251,.0256,.0261,.0266,.0271,.0279],[.5,.0247,.0252,.0257,.0262,.0267,.0272,.0278,.0285],[.55,.0246,.0251,.0256,.0261,.0266,.0271,.0276,.0282,.0294],[.6,.025,.0255,.026,.0265,.027,.0275,.028,.0285,.0292],[.65,.0249,.0254,.0259,.0264,.0269,.0274,.0279,.0284,.029,.0297],[.7,.025,.0255,.026,.0265,.027,.0275,.028,.0285,.029,.0296],[.75,.0248,.0254,.0259,.0264,.0269,.0274,.0279,.0284,.0289,.0294,.0302],[.8,.0252,.0257,.0262,.0267,.0272,.0277,.0282,.0287,.0292,.0297,.0305],[.85,.0253,.0258,.0263,.0268,.0273,.0278,.0283,.0288,.0293,.0298,.0305],[.9,.0252,.0258,.0263,.0268,.0273,.0278,.0283,.0288,.0293,.0298,.0303,.0312],[.95,.0253,.0259,.0264,.0269,.0274,.0279,.0284,.0289,.0294,.0299,.0304,.0309],[1,.0255,.026,.0265,.027,.0275,.028,.0285,.029,.0295,.03,.0305,.031,.0318],[1.05,.0252,.0261,.0266,.0271,.0276,.0281,.0286,.0291,.0296,.0301,.0306,.0311,.032],[1.1,.0258,.0265,.027,.0275,.028,.0285,.029,.0295,.03,.0305,.031,.0315,.0322],[1.15,.026,.0266,.0271,.0276,.0281,.0286,.0291,.0296,.0301,.0306,.0311,.0316,.0325],[1.2,.0258,.0267,.0272,.0277,.0282,.0287,.0292,.0297,.0302,.0307,.0312,.0317,.0328],[1.25,.0262,.0269,.0274,.0279,.0284,.0289,.0294,.0299,.0304,.0309,.0314,.0319,.0326],[1.3,.0265,.0272,.0277,.0282,.0287,.0292,.0297,.0302,.0307,.0312,.0317,.0322,.0332],[1.35,.0268,.0275,.028,.0285,.029,.0295,.03,.0305,.031,.0315,.032,.0325,.0335],[1.4,.0265,.0274,.028,.0285,.029,.0295,.03,.0305,.031,.0315,.032,.0325,.033,.0338],[1.45,.0272,.0279,.0285,.029,.0295,.03,.0305,.031,.0315,.032,.0325,.033,.0337],[1.5,.0275,.0283,.0288,.0293,.0298,.0303,.0308,.0313,.0318,.0323,.0328,.0333,.034,.0352],[1.55,.0278,.0286,.0292,.0297,.0302,.0307,.0312,.0317,.0322,.0327,.0332,.0337,.0343,.0358],[1.6,.0283,.029,.0296,.0301,.0306,.0311,.0316,.0321,.0326,.0331,.0336,.0341,.0347,.0366],[1.65,.0287,.0295,.0301,.0306,.0311,.0316,.0321,.0326,.0331,.0336,.0341,.0346,.0354,.0362],[1.7,.0285,.03,.0306,.0312,.0317,.0322,.0327,.0332,.0337,.0342,.0347,.0352,.036],[1.75,.0255,.0305,.0312,.0318,.0323,.0328,.0333,.0338,.0343,.035,.0358],[1.8,.0305,.0318,.0324,.033,.0335,.034,.0346,.0352],[1.85,.031,.0322,.033,.0336,.0342,.0348],[1.9,.0318,.0325,.0335,.0342,.0347],[1.95,.0257,.0322,.0335,.0345],[2,.032,.0338]];
const scatterMCore = [[.325,.025,.0255,.026],[.425,.0252,.0257,.0262,.0267],[.525,.0249,.0254,.0259,.0264,.0269,.0275],[.625,.0252,.0257,.0262,.0267,.0272,.0277,.0282],[.725,.0252,.0257,.0262,.0267,.0272,.0277,.0282,.0287],[.825,.0255,.026,.0265,.027,.0275,.028,.0285,.029,.0295],[.925,.0255,.026,.0265,.027,.0275,.028,.0285,.029,.0295,.03],[1.025,.0258,.0263,.0268,.0273,.0278,.0283,.0288,.0293,.0298,.0303,.0308],[1.125,.0263,.0268,.0273,.0278,.0283,.0288,.0293,.0298,.0303,.0308,.0313],[1.225,.027,.0275,.028,.0285,.029,.0295,.03,.0305,.031,.0315],[1.325,.0275,.028,.0285,.029,.0295,.03,.0305,.031,.0315,.032,.0325],[1.425,.0282,.0287,.0292,.0297,.0302,.0307,.0312,.0317,.0322,.0327,.0332],[1.525,.029,.0295,.03,.0305,.031,.0315,.032,.0325,.033,.0335],[1.625,.0298,.0303,.0308,.0313,.0318,.0323,.0328,.0333,.0338,.0343],[1.725,.0309,.0315,.032,.0325,.033,.0335,.034,.0345]];

// ---- map of panel a in metres, flat x,y lists ----
const crestLines = [
  [86.9,198.6,82.5,194.6,72.4,189.3,71,182,75.3,170.4,67.2,163.1,56.4,147.1,50.6,130.5,34.6,125.3,34.1,107.8,28.8,90.4,28.8,81.6,21.6,58.3,25.1,40.9,21.6,29.2],
  [97.1,1.6,76.7,8.8,73.8,20.5,72.4,55.4,76.7,78.7,81.1,94.7,94.2,107.8,108.7,122.4,113,129.7,142,150,152.2,163.1,147.9,177.7,159.5,182,175.4,187,188.5,177.7,192.9,154.4,192.9,122.4,194.3,104.9,206,72.9,207.4,49.6,203,32.1,191.4,17.6,194.3,8.8,201.6,1.6],
  [142,150,143.5,142.8,159.5,138.4,162.4,125.3,162.4,113.6,150.8,96.2,147.9,87.4,152.2,67.1,155.1,49.6,150.8,23.4,152.2,14.7,168.2,1.6],
  [176.9,198.6,178.3,189.3,176.9,187],
  [232,198.6,233.5,187.9,243.7,174.8,252.4,160.2,248,154.4,223.3,135.5,220.4,125.3,219,112.2],
  [284.3,198.6,278.5,185,288.7,166,287.2,154.4,268.3,136.9,271.2,122.4,269.8,102,265.4,78.7,265.4,61.2,249.5,49.6,246,38,265.4,32.1,261.1,23.4,259.6,8.8,269.8,1.6],
  [329.3,198.6,325,189.3,314.8,177.7,311.9,171.9,327.9,151.5,333.7,128.2,330.8,110.7,327.9,84.5,325,61.2,309,35.1,307.5,26.3,325,14.7,332.2,5.9,329.3,1.6],
  [364.3,198.6,370.1,192.2,371.5,171.9,374.4,145.7,376.8,128.2,370.7,116.6,377.3,103.5,370.1,78.7,367.2,64.2,375.9,32.1,375.9,8.8,377.3,1.6],
  [376.8,99.1,391.9,91.8,403.5,84.5,407.8,71.4,420.9,52.5,436.9,40.9,442.7,26.3,447,1.6],
  [403.5,84.5,420.9,87.5,435.4,91.8,445.6,107.8,451.4,115.1,452.2,139.8,441.2,146.3,450.5,169,439.8,198.6],
  [368.6,78.7,348.3,64.2,341.1,46.7,340.2,35.1],
  [465,93.8,461.5,78.7,454.3,67.1,454.3,49.6],
  [508,198.6,513.8,186.4,513.8,169,508,158.8,510.9,136.9,513.2,124.7],
  [488.5,82.2,483.3,64.2,483.3,52.5,493.5,26.3,502.2,17.6,528.3,9.4,529.8,1.6],
  [544.3,176.2,548.6,169,560.2,160.2,569.5,147.1,565.5,141.3,566,136.9,577.7,131.7,577.1,122.4,580.6,113.6,580,99.1,573.3,72.9,571.8,49.6,548.6,35.1,544.3,23.4,529.8,14.7,528.3,9.4],
  [584.3,38.5,587.8,26.3,580.6,14.7,589.3,1.6],
  [658.9,163.7,647.3,174.8,635.7,189.3,628.5,198.1,621.2,183.5,612.5,174.8,611,155.9,624.1,136.9,629.9,116.6,640.1,96.2,645.9,70,644.4,43.8,643,26.3,648.8,8.8,648.8,1.6]
];
const slipThick = [
  [60.8,116.6,63.1,134,69.5,151.5,81.1,169,91.3,179.1,93.3,189.3,95,198.6],
  [34.6,58.3,39,75.8,44.8,94.7,52.6,107.8],
  [100,96.2,91.3,78.7,86.3,55.4,88.4,32.1,92.7,14.7,98.5,3],
  [168.8,167.5,167.6,148.6,168.2,122.4,163,104.9,162.4,84.5,163.8,55.4,166.7,26.3,170.5,13.2],
  [184.2,198.6,186.2,189.3,190,182],
  [204.5,180.6,200.7,154.4,201.6,122.4,204.5,99.1],
  [298.2,163.1,287.2,137,282.9,110.7,279.9,84.5,278.5,61.2],
  [293,198.6,295.9,180.6],
  [339,198.6,337.3,177.7,339.6,148.6,344,119.5,344.8,90.4,339.6,67.1,330.9,43.8,329.3,38],
  [457.2,198.6,460.1,177.7,464.4,157.3,465,151.5],
  [474.6,158.8,470.2,125.3,473.2,90.4,467.3,67.1,458.6,40.9,454.3,23.4,458.6,1.6],
  [580.6,160.2,593.6,141.3,596.5,131.1,593.6,107.8,586.4,84.5,582,64.2,585,47.3],
  [345.4,32.1,344,14.7,349.8,1.6],
  [375.9,65.6,378.8,52.5,383.2,38,384,1.6],
  [598.5,48.1,594.5,38,596.5,11.8,595.6,1.6],
  [636.3,187.9,631.4,174.8,631.4,157.3,636.3,138.4],
  [525.4,154.4,524,132.6],
  [554.4,6,555.9,17.6,566,32.7]
];
const slipThin = [
  [1.8,164.6,5.6,174.8,11.4,181.2],[240.8,198.6,245.1,190.8],[264,164.6,265.4,154.4],[117.4,112.2,124.1,123.8],[226.8,111.3,232,128.2],
  [212.3,88.9,213.2,72.9,219,58.3,217.6,32.1,216.1,11.8,219,1.6],[284.9,39.4,287.2,49.6],[275.6,23.4,277.1,13.2],[26,17.6,30.3,26.3],
  [384.6,198.6,381.7,186.4,383.2,171.9,387.5,153],[351.8,54,345.4,32.1],[432.5,64.2,433.1,74.3],[498.7,78.1,496.4,61.2,500.7,43.8,504.2,38],
  [530.6,176.2,525.4,154.4],[535,198.6,538.5,182],[573.3,177.7,580.6,160.2],[636.3,138.4,637,130],[647.3,198.6,654.6,177.7],[563.1,180.6,564,177.7]
];
const sepZones = [
  [36.1,67,41.9,84.5,47.7,94.7,44.8,78.7,39,67],
  [95.6,81.6,91.3,61.2,89.8,38,93.3,17.6,96.2,17.6,93.3,38,94.2,61.2,97.1,84.5],
  [170.5,137,172.5,116.6,166.7,102,166.7,78.7,174,64.2,169.6,43.8,168.8,26.3,165.3,43.8,164.7,72.9,165.3,99.1,169.6,119.5],
  [186.2,198.6,188.5,186.4,192.9,185,192.9,198.6],
  [204.5,171.9,203,151.5,207.4,137,210.3,164.6],
  [290.1,138.4,288.7,119.5,290.1,99.1,284.3,87.4,282.9,67.1,280,62.7,281.4,90.4,284.9,119.5],
  [294.5,198.6,298.8,198.6,298.8,182],
  [339.6,198.6,345.4,198.6,348.3,169,351.2,137,348.3,107.8,345.4,78.7,339.6,64.2,342.5,90.4,344.8,119.5,341.9,154.4],
  [383.2,38,386.1,38,386.1,1.6,383.7,1.6],
  [458.6,198.6,464.4,198.6,467.3,174.8,468.8,160.2,465,160.2,461.5,177.7],
  [473.2,125.3,476.1,104.9,474.6,90.4,467.3,61.2,463,38,458.6,17.6,463,1.6,460.1,1.6,457.2,20.5,460.1,40.9,468.8,67.1,471.7,90.4,470.8,119.5],
  [528.3,158.8,526,138.4,528.3,145.7],
  [536.4,198.6,540.5,198.6,539,186.4],
  [595.6,135.5,601.5,131.1,600.9,113.6,593.6,78.7,589.3,52.5,584.9,48.1,587.8,67.1,592.2,90.4,596.5,113.6],
  [595.1,8.8,598.5,8.8,598,1.6,595.1,1.6],
  [635.1,185,632.8,169,634.2,163.1,635.7,174.8],
  [35,30.5,35.6,30.5,35.6,31,35,31],[22,8.6,22.6,8.6,22.6,9.2,22,9.2],[576,146.5,577,146.5,577,148,576,148],[380.6,124,381.4,124,381.4,125,380.6,125],[417.8,77.4,418.6,77.4,418.6,78.2,417.8,78.2]
];
const wakeZones = [
  [65.1,125.3,70.9,141.3,81.1,144.2,89.8,161.7,86.9,166,95.6,177.7,89.8,176.2,81.1,164.6,75.3,154.4,70.1,144.2,66,134],
  [95.6,182,100,189.3,104.3,195.2,109.5,198.6,97.1,198.6],
  [37.5,65.6,44.8,70,47.7,78.7,50.6,87.4,48.3,95.6,44.8,84.5,40.5,71.4],
  [96.2,90.4,99.1,84.5,100,64.2,97.1,49.6,102.9,36.5,108.7,26.3,102.9,19,94.2,11.8,92.7,20.5,92.7,38,93.3,61.2],
  [171.1,166,176,166,175.4,148.6,181.2,129.7,187.6,122.4,184.2,107.8,185.6,87.4,183.3,78.7,189.1,67.1,179.8,55.4,178.3,40.9,171.1,32.1,171.1,20.5,168.8,26.3,169.3,49.6,174,64.2,171.1,78.7,167.6,96.2,171.1,113.6,172.5,131.1,170.5,148.6],
  [192.9,198.6,201.6,198.6,204.5,192.2,194.3,185],
  [205.9,173.3,216.1,167.5,225.4,158.8,223.3,154.4,219,145.7,210.3,135.5,204.5,125.3,205.9,142.8,207.4,154.4],
  [243.7,198.6,248.9,198.6,248,192.2],
  [266.9,161.7,269.8,157.3,266.9,155],
  [298.8,161.7,301.1,151.5,290.1,139.8,295.9,122.4,294.5,106.4,301.7,104.9,295.9,90.4,300.3,72.9,290.1,64.2,282.9,61.2,285.8,70,288.7,90.4,290.1,107.8,288.7,131.1,294.5,145.7],
  [300.3,198.6,307.5,198.6,306.1,187.9,298.8,182],
  [214,84,217,81,215,73],[217.6,35.1,219,17.6,217.6,17.6],[219,6,226.2,1.6,219,1.6],
  [285.8,41,288.7,48.1,289.2,43.8],[278.5,29.2,282.9,30.7,282.9,17.6,278.5,16.1],
  [344.8,198.6,359.4,198.6,364.3,187.9,353.5,179.1,353.5,157.3,362.8,152.9,369.2,131.1,361.4,122.4,355.6,106.4,358.5,87.4,348.3,78.7,339.6,58.3,335.3,46.7,335.3,35,330.9,40.9,330.9,55.4,339.6,67.1,345.4,78.7,348.3,107.8,351.2,137,348.3,169],
  [383.7,177.7,388.4,169,387.5,161.7,385.5,169],
  [346.9,19,355.6,13.2,363.4,5.9,351.2,3],
  [378.8,59.8,389,42.3,395.3,30.7,391.9,11.8,387.5,9,388.4,29.2,381.7,46.7],
  [464.4,198.6,471.1,198.6,470.8,180.6,477.5,167.5,467.3,157.3,467.3,174.8],
  [475.2,150,480.4,134,484.8,110.7,494.9,90.4,481.9,81.6,470.2,67.1,470.2,35,473.2,17.6,474,1.6,463,1.6,458.6,17.6,463,38,467.3,61.2,474.6,90.4,476.1,104.9,473.2,125.3,474.6,142.8],
  [465.9,132.6,468.8,131.7,467.3,122.4],[433.1,70,436,64.2,432.5,64.2],
  [498.7,55.4,502.2,51,505.1,38.5,500.7,43.8],
  [529.8,167.5,532.7,163.1,530.6,148.6,526.9,135.5,524.8,134],
  [540.5,198.6,547.2,198.6,540,187.9],
  [587.8,150,593.6,150,602.3,141.3,613.9,129.7,612.5,119.5,613.9,112.2,608.1,104.9,609.6,90.4,613.9,78.7,611,70,611,59.8,589.3,51.9,593.6,78.7,600.9,113.6,601.5,131.1,595.6,135.5,593.6,142.8],
  [558.8,17.6,567.5,32.7,573.3,33.6,566,17.6,558.8,8.8],
  [598,40.9,602.3,32.1,599.4,17.6,597.1,23.4],
  [635.7,186.4,641,187,635.7,169,635.1,161.7,634.2,171.9]
];
const wakeCores = [
  [95.6,43.8,104.3,29.2,95.6,21.9,93.3,35],
  [174,119.5,184.2,120.9,182.7,84.5,185.6,67.1,175.4,67.1,172.5,90.4],
  [290.1,119.5,294.5,104.9,293,90.4,297.4,72.9,285.8,67.1,290.1,90.4],
  [348.3,192.2,359.9,189.3,354.1,177.7,351.2,157.3,364.3,148.6,367.2,131.1,355.6,119.5,351.2,104.9],
  [479,104.9,483.3,90.4,472,72.9],[464.4,32.1,470.2,32.1,471.7,6,464.4,6],
  [600.9,122.4,609.6,122.4,605.2,104.9,606.7,90.4,611,75.8,608.1,64.2,593.6,58.3,596.5,78.7]
];
const wakePeaks = [[596.5,81.6,609.6,81.6,606.7,67.1,593.6,64.2],[352,150,364,146,365,133,354,128]];
const boxA = [45.4,180.3,113.9,180.3,113.9,139.3,45.4,139.3,45.4,180.3];
const boxB = [552.4,162,624.4,162,624.4,118.6,552.4,118.6,552.4,162];

// ---- insets A and B ----
const insetACrest = [71.1,179.4,72.2,175.1,74.3,171.4,73.2,167.1,70.6,165,67.4,163.4,65.8,161.8,64.2,157,61.1,153.3,57.9,150.1,56.3,145.8,55.2,142.6,52.8,137.3];
const insetASlip = [61.9,136.8,62.6,141.6,65.3,145.8,69.5,152.8,72.7,154.4,77.5,159.1,78,164.5,81.2,168.7,81.7,172.4,83.3,171.9,88.6,179.4,90.7,179.4,86.5,173,83.3,168.7,82.2,164.5,80.1,159.7,75.9,155.4,71.6,150.6,69.5,145.9,66.9,141.6,65,136.8];
const insetASep = [[65,136.8,65.8,140.5,69,145.3,70.8,145.1,69.5,141.6,67.4,136.8],[80.1,160.2,83.3,166.8,83.8,164.5,82.2,162.3],[91.7,179.4,93.3,179.4,90.9,177.8]];
const insetAWake = [[67.6,136.8,69.5,139.5,70.6,145.1,72.7,150.6,76.9,154.9,81.2,159.7,84.9,164.5,88.1,164,89.4,160.2,87.5,156.5,83.3,153.8,82.2,148.5,79.6,142.1,72.7,139.5,69.5,136.8],[83.3,167.7,87,172,90.7,173.5,90.7,176.7,93.9,177.8,96.8,176.7,94.9,174.5,95.8,171.4,93.9,169.3,87.5,166.1,83.5,165]];
const insetACore = [[71.6,148.5,78,152.8,81.2,151.7,79,143.2,72.7,141.6,69.5,142.1]];
const insetBCrest = [[561,159.7,569,148.4,568.5,146.3,565.7,142.6,565.7,135.8,570.5,134.7,577.7,133.2,577.7,130.5,576.5,127.9,576.9,123.2,580.1,117.4],[611.2,159.7,611.4,154.2,616.6,148.4,620.8,142.6,622.6,135.8,626.2,126.8]];
const insetBSlip = [578.3,158.9,581.3,158.9,581.9,155.8,584.3,152.6,587.3,149.5,589.7,145.3,592.7,141.1,594.4,134.7,594.4,117.4,591.5,117.4,592.1,133.2,591.5,137.4,589.1,141.1,587.3,145.3,586.1,149,581.9,151.1,581.3,154.9,578.3,158.9];
const insetBSep = [[593.9,140,596.3,138.4,598.6,131.6,600.8,126.8,600.4,117.4,594.4,117.4,594.4,134.7,593.9,137.9],[575.2,149,575.8,149,576.2,145.3,575.5,145.3]];
const insetBWake = [[587.3,150,590.9,150,597.4,147.4,598.6,143.2,601.6,140,601,137.4,605.8,134.7,613,128.9,612.4,126.8,613.8,122.6,611.2,117.4,600.4,117.4,600.8,126.8,598.6,131.6,596.3,138.4,593.9,140,589.7,145.3]];
const insetBCore = [[599.8,131.6,609.4,130.5,611.8,127.4,612.4,122.1,610,118.4,601,118.4]];

// connector lines of the insets, in page pixels
const connectors = [[254,10,172,200],[474,144,251,247],[558,145,754,271],[778,11,837,221]];
const barColors = [[0,'#ff0000'],[0.1,'#ff0000'],[0.55,'#ff8c00'],[1,'#ffff00']];

const FONT = '"Liberation Sans", Arial, sans-serif';
const BLUE = '#0a3cff';
const LABEL_BLUE = '#1a50ff';
const SCATTER_BLUE = '#1040ff';

const pairs = flat => {
  const out = [];
  for (let i = 0; i < flat.length; i += 2) out.push({ x: flat[i], y: flat[i + 1] });
  return out;
};
const cloud = rows => rows.flatMap(r => r.slice(1).map(y => ({ x: r[0], y })));

function polyline(flat, color, width) {
  return { data: pairs(flat), showLine: true, borderColor: color, borderWidth: width, pointRadius: 0, borderJoinStyle: 'round', borderCapStyle: 'round', tension: 0 };
}
function shape(flat, fillColor, edge, width) {
  return { data: pairs(flat), showLine: true, fill: 'shape', backgroundColor: fillColor, borderColor: edge || fillColor, borderWidth: width === undefined ? 0.5 : width, pointRadius: 0, tension: 0 };
}
// first in the list is drawn first
const stacked = list => list.map((d, i) => Object.assign(d, { order: list.length - i }));

// one axis; sizes are forced so every plot sits on the pixels of the figure
function axis(name, pos, range, tickVals, box, o = {}) {
  const horizontal = name === 'x';
  const color = o.color || '#000';
  const cfg = {
    type: 'linear', axis: name, position: pos, min: range[0], max: range[1], offset: false,
    afterBuildTicks: s => { s.ticks = tickVals.map(v => ({ value: v })); },
    afterFit: s => {
      if (horizontal) s.height = pos === 'bottom' ? box.mb : 0;
      else s.width = pos === 'left' ? box.ml : (o.labels ? box.mr : 0);
      // labels may hang over the ends, they must not shrink the plot
      s.paddingTop = s.paddingBottom = s.paddingLeft = s.paddingRight = 0;
    },
    // border layer has to come after the grid layer, the grid works out its position
    grid: { offset: false, drawOnChartArea: false, drawTicks: true, tickLength: -(o.tick || 4), color, lineWidth: Math.max(o.lw || 1.3, 1.6), z: 1 },
    border: { color, width: o.lw || 1.3, z: 2 },
    ticks: { display: !!o.labels, color: o.labelColor || '#111', font: { size: 15.5, family: FONT }, padding: horizontal ? 12 : (pos === 'right' ? 11 : 10), autoSkip: false, maxRotation: 0, callback: v => String(v) }
  };
  if (o.title) cfg.title = { display: true, text: o.title, color: o.titleColor || '#111', font: { size: 16.3, family: FONT, lineHeight: 1.25 }, padding: 0 };
  return cfg;
}

// free text of a panel, page coordinates
function notesPlugin(notes, box) {
  return {
    id: 'notes',
    afterDraw(chart) {
      const c = chart.ctx;
      c.save();
      c.textBaseline = 'middle';
      c.fillStyle = '#111';
      notes.forEach(n => {
        const x = n.x - (box.l - box.ml), y = n.y - (box.t - box.mt);
        if (n.r2) {
          c.textAlign = 'left';
          c.font = '16px ' + FONT;
          c.fillText('R', x, y);
          let w = c.measureText('R').width;
          c.font = '11px ' + FONT;
          c.fillText('2', x + w, y - 6);
          w += c.measureText('2').width;
          c.font = '16px ' + FONT;
          c.fillText(' = ' + n.r2, x + w, y);
        } else if (n.rot) {
          c.translate(x, y);
          c.rotate(-Math.PI / 2);
          c.textAlign = 'center';
          c.font = '16.3px ' + FONT;
          c.fillText(n.text, 0, 0);
          c.setTransform(1, 0, 0, 1, 0, 0);
        } else if (n.center) {
          c.textAlign = 'center';
          c.font = '16.3px ' + FONT;
          c.fillText(n.text, x, y);
        } else {
          c.textAlign = 'left';
          c.font = 'bold 15px ' + FONT;
          c.fillStyle = n.color || '#111';
          c.fillText(n.text, x, y);
          c.fillStyle = '#111';
        }
      });
      c.restore();
    }
  };
}

function panel(box, scales, datasets, notes, type) {
  box.mt = box.mt === undefined ? 12 : box.mt;
  box.mr = box.mr === undefined ? 24 : box.mr;
  const cv = document.createElement('canvas');
  const w = box.r - box.l + box.ml + box.mr, h = box.b - box.t + box.mt + box.mb;
  cv.width = w; cv.height = h;
  cv.style.cssText = `left:${box.l - box.ml}px;top:${box.t - box.mt}px;width:${w}px;height:${h}px`;
  document.body.appendChild(cv);
  return new Chart(cv.getContext('2d'), {
    type: type || 'scatter',
    data: { datasets },
    options: {
      responsive: false, animation: false, events: [],
      layout: { padding: { top: box.mt, right: box.labelRight ? 0 : box.mr, left: 0, bottom: 0 } },
      plugins: { legend: { display: false }, tooltip: { enabled: false } },
      scales
    },
    plugins: [notesPlugin(notes || [], box)]
  });
}

function frame(box, xr, yr, xt, yt, o = {}) {
  return {
    x: axis('x', 'bottom', xr, xt, box, { labels: !o.noX, title: o.xTitle, lw: o.lw, tick: o.tick, color: o.edge }),
    xTop: axis('x', 'top', xr, xt, box, { lw: o.lw, tick: o.tick, color: o.edge }),
    y: axis('y', 'left', yr, yt, box, { labels: true, title: o.yTitle, lw: o.lw, tick: o.tick, color: o.edge }),
    yRight: axis('y', 'right', yr, yt, box, { lw: o.lw, tick: o.tick, color: o.edge })
  };
}

function scatterPanel(box, rows, fit, xr, yr, xt, yt, xTitle, yTitle, notes) {
  const sets = stacked([
    { data: cloud(rows), backgroundColor: SCATTER_BLUE, borderWidth: 0, pointRadius: 2.7 },
    polyline(fit, '#000', 1.2)
  ]);
  return panel(box, frame(box, xr, yr, xt, yt, { xTitle, yTitle }), sets, notes);
}

function barPanel(box, bins, bars, lineX, lineY, xr, rightMax, xt, rightTicks, barWidth, xTitle, yTitle, notes) {
  box.labelRight = true;
  const sets = [
    { type: 'bar', data: bins.map((x, i) => ({ x, y: bars[i] })), yAxisID: 'y', backgroundColor: '#0436ff', borderColor: '#444', borderWidth: 1, barThickness: barWidth, order: 2 },
    { type: 'line', data: lineX.map((x, i) => ({ x, y: lineY[i] })), yAxisID: 'yRight', borderColor: '#000', borderWidth: 3.6, pointRadius: 0, tension: 0, borderJoinStyle: 'round', order: 1 }
  ];
  const scales = {
    x: axis('x', 'bottom', xr, xt, box, { labels: true, title: xTitle }),
    xTop: axis('x', 'top', xr, xt, box, {}),
    y: axis('y', 'left', [0, 100], ticksPct, box, { labels: true, labelColor: LABEL_BLUE, title: yTitle, titleColor: LABEL_BLUE }),
    yRight: axis('y', 'right', [0, rightMax], rightTicks, box, { labels: true, color: BLUE })
  };
  return panel(box, scales, sets, notes, 'bar');
}

// panel a
const mapBox = { l: 122, r: 895, t: 179, b: 406, ml: 60, mb: 48 };
panel(mapBox, frame(mapBox, [1.6, 675], [0.8, 199], ticksMapX, ticksMapY, { xTitle: 'x-dir (m)', yTitle: 'y-dir (m)', lw: 2.4, tick: 5 }), stacked([
  ...wakeZones.map(p => shape(p, '#ff8a00', '#ff2a00', 1.2)),
  ...wakeCores.map(p => shape(p, '#ffa800', '#ffa800', 0)),
  ...wakePeaks.map(p => shape(p, '#ffcc00', '#ffcc00', 0)),
  ...sepZones.map(p => shape(p, '#00f0ff', '#00f0ff', 0.6)),
  ...slipThick.map(p => polyline(p, '#0a3cff', 2.6)),
  ...slipThin.map(p => polyline(p, '#1a4cff', 1.4)),
  ...crestLines.map(p => polyline(p, '#000', 2.8)),
  polyline(boxA, '#555', 1),
  polyline(boxB, '#555', 1)
]), [{ text: 'a', x: 126, y: 188, color: '#444' }]);

// insets
const insetA = { l: 254, r: 474, t: 10, b: 144, ml: 50, mb: 30 };
panel(insetA, frame(insetA, [49, 118.5], [136.7, 179.3], ticksInsetAx, ticksInsetAy, { edge: '#666', lw: 1.1, tick: 3 }), stacked([
  ...insetAWake.map(p => shape(p, '#ff5a00', '#ff2000', 1.5)),
  ...insetACore.map(p => shape(p, '#ff7a00', '#ff7a00', 0)),
  ...insetASep.map(p => shape(p, '#00f0ff')),
  shape(insetASlip, '#0a3cff'),
  polyline(insetACrest, '#111', 1.5)
]), [{ text: 'A', x: 263, y: 23, color: '#444' }]);

const insetB = { l: 558, r: 778, t: 11, b: 145, ml: 50, mb: 30 };
panel(insetB, frame(insetB, [556.5, 626.5], [117.5, 159.7], ticksInsetBx, ticksInsetBy, { edge: '#666', lw: 1.1, tick: 3 }), stacked([
  ...insetBWake.map(p => shape(p, '#ff8000', '#ff2a00', 1.5)),
  ...insetBCore.map(p => shape(p, '#ffa400', '#ffa400', 0)),
  ...insetBSep.map(p => shape(p, '#00f0ff')),
  shape(insetBSlip, '#0a3cff'),
  ...insetBCrest.map(p => polyline(p, '#111', 1.5))
]), [{ text: 'B', x: 563, y: 27, color: '#444' }]);

// colour bar of wake height
const cbBox = { l: 924, r: 964, t: 182, b: 313, ml: 0, mb: 10, mr: 34, mt: 10, labelRight: true };
(function () {
  const sets = [{
    type: 'bar',
    data: [{ x: 0, y: [0, 2] }],
    barThickness: 40,
    backgroundColor: ctx => {
      const a = ctx.chart.chartArea;
      if (!a) return '#ff0000';
      const g = ctx.chart.ctx.createLinearGradient(0, a.bottom, 0, a.top);
      barColors.forEach(s => g.addColorStop(s[0], s[1]));
      return g;
    }
  }];
  const scales = frame(cbBox, [-1, 1], [0, 2], [], ticksBar, { lw: 2.6, tick: 2 });
  scales.y.ticks.display = false;
  scales.x.ticks.display = false;
  scales.yRight.ticks.display = true;
  scales.yRight.ticks.padding = 7;
  scales.yRight.afterFit = s => { s.width = cbBox.mr; s.paddingTop = s.paddingBottom = 0; };
  panel(cbBox, scales, sets, [], 'bar');
})();

// scatter panels
const yLen = ['Flow separation', 'zone length (m)'];
scatterPanel({ l: 75, r: 350, t: 475, b: 648, ml: 63, mb: 48 }, [...scatterB, ...scatterBCore], fitB, [0, 2.1], [0, 14], ticksHeight, ticksLen, 'Bed form height (m)', yLen,
  [{ text: 'b', x: 88, y: 489 }, { r2: '0.13', x: 89, y: 527 }]);
scatterPanel({ l: 427, r: 702, t: 475, b: 648, ml: 64, mb: 48 }, [...scatterC, ...scatterCCore], fitC, [0, 2], [0, 14], ticksHeight, ticksLen, 'Slip face height (m)', yLen,
  [{ text: 'c', x: 441, y: 489 }, { r2: '0.74', x: 441, y: 527 }]);
scatterPanel({ l: 778, r: 1053, t: 475, b: 648, ml: 65, mb: 48, mr: 45 }, [...scatterD, ...scatterDCore], fitD, [0, 60], [0, 14], ticksAngleD, ticksLen, null, yLen,
  [{ text: 'd', x: 792, y: 488 }, { r2: '0.82', x: 792, y: 514 }, { text: 'Slip face height (m) * average slip face angle (°)', x: 917, y: 685, center: true }]);
scatterPanel({ l: 75, r: 350, t: 728, b: 901, ml: 52, mb: 48 }, scatterE, fitE, [0, 2.15], [0, 40], ticksHeight, ticks40, 'Bed form height (m)', 'Wake length (m)',
  [{ text: 'e', x: 88, y: 742 }, { r2: '0.08', x: 88, y: 773 }]);
scatterPanel({ l: 427, r: 702, t: 728, b: 901, ml: 53, mb: 48 }, scatterF, fitF, [0, 2.15], [0, 40], ticksHeight, ticks40, 'Slip face height (m)', 'Wake length (m)',
  [{ text: 'f', x: 440, y: 742 }, { r2: '0.70', x: 440, y: 773 }]);
scatterPanel({ l: 778, r: 1053, t: 728, b: 901, ml: 52, mb: 48 }, [...scatterG, ...scatterGCore], fitG, [0, 15], [0, 50], ticksG, ticks50, null, 'Wake area (m²)',
  [{ text: 'g', x: 797, y: 743 }, { r2: '0.88', x: 797, y: 771 }, { text: 'Flow separation zone length (m)', x: 921, y: 938, center: true }]);
scatterPanel({ l: 811, r: 1053, t: 981, b: 1167, ml: 66, mb: 48 }, [...scatterJ, ...scatterJCore], fitJ, [-45, 48], [-0.2, 0.3], ticksOrient, ticksJ, null, 'Cross wise velocity (m s⁻¹)',
  [{ text: 'j', x: 824, y: 1001 }, { r2: '0.48', x: 824, y: 1027 }, { text: 'Slip face orientation (°)', x: 940, y: 1204, center: true }]);
scatterPanel({ l: 811, r: 1053, t: 1234, b: 1420, ml: 75, mb: 48 }, [...scatterM, ...scatterMCore], fitM, [0, 2.2], [0.023, 0.038], ticksHeight.slice(1), ticksMy, 'Slip face height (m)', 'TKE wake (m² s⁻²)',
  [{ text: 'm', x: 821, y: 1253 }, { r2: '0.56', x: 822, y: 1279 }]);

// bar panels
barPanel({ l: 92, r: 334, t: 981, b: 1167, ml: 80, mb: 48, mr: 45 }, orientBins, presenceSepOrient, countOrientX, countOrient, [-45, 45], 1000, ticksOrient, ticksCount1000, 11, null, ['Presence of', 'flow separation (%)'],
  [{ text: 'h', x: 106, y: 1000 }, { text: 'Slip face orientation (°)', x: 220, y: 1204, center: true }]);
barPanel({ l: 416, r: 658, t: 981, b: 1167, ml: 45, mb: 48, mr: 60 }, angleBins, presenceSepAngle, angleBins, countAngle, [15, 40], 500, ticksAngle, ticksCount500, 8, 'Slip face maximum angle (°)', null,
  [{ text: 'i', x: 424, y: 1000 }, { text: 'Number of slip faces', x: 707, y: 1068, rot: true }]);
barPanel({ l: 92, r: 334, t: 1234, b: 1420, ml: 80, mb: 48, mr: 45 }, orientBins, presenceWakeOrient, countOrientX, countOrient, [-45, 45], 1000, ticksOrient, ticksCount1000, 11, null, ['Presence of', 'turbulent wake (%)'],
  [{ text: 'k', x: 100, y: 1253 }, { text: 'Slip face orientation (°)', x: 220, y: 1457, center: true }]);
barPanel({ l: 416, r: 658, t: 1234, b: 1420, ml: 45, mb: 48, mr: 60 }, angleBins, presenceWakeAngle, angleBins, countAngle, [15, 40], 500, ticksAngle, ticksCount500, 8, 'Slip face maximum angle (°)', null,
  [{ text: 'l', x: 427, y: 1253 }, { text: 'Number of slip faces', x: 707, y: 1322, rot: true }]);

// lines tying the insets to their boxes
(function () {
  const box = { l: 0, r: 1106, t: 0, b: 1466, ml: 0, mb: 0, mr: 0, mt: 0 };
  const c = panel(box, {
    x: { type: 'linear', display: false, min: 0, max: 1106 },
    y: { type: 'linear', display: false, min: 0, max: 1466, reverse: true }
  }, connectors.map(p => polyline(p, '#222', 1)));
  c.canvas.style.pointerEvents = 'none';
})();
</script>
</body>
</html>
